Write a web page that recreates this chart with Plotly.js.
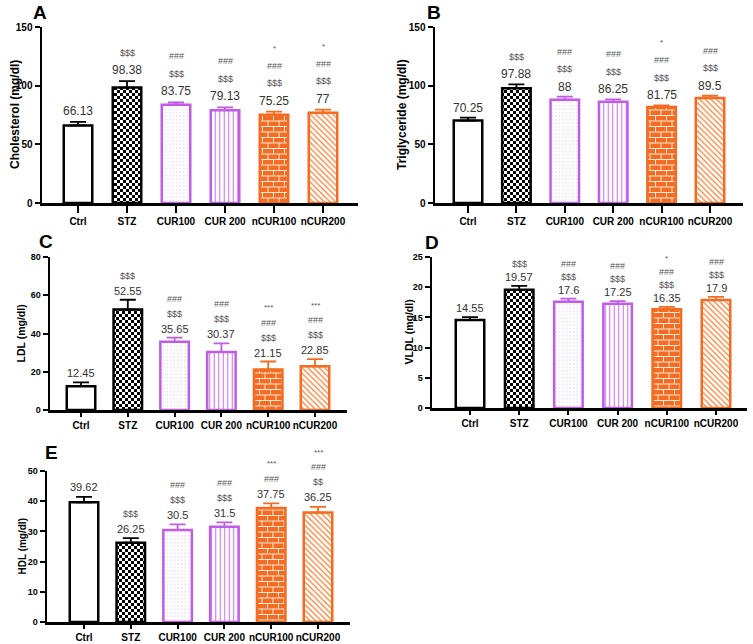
<!DOCTYPE html>
<html>
<head>
<meta charset="utf-8">
<script src="https://cdn.plot.ly/plotly-3.0.1.min.js"></script>
<style>
  html, body { margin: 0; padding: 0; background: #ffffff; }
  #chart { width: 753px; height: 644px; }
</style>
</head>
<body>
<div id="chart"></div>
<script>
// ---------------- DATA ----------------
const groups = ['Ctrl', 'STZ', 'CUR100', 'CUR 200', 'nCUR100', 'nCUR200'];
const panelLetters = ['A', 'B', 'C', 'D', 'E'];
const yTitles = ['Cholesterol (mg/dl)', 'Triglyceride (mg/dl)', 'LDL (mg/dl)', 'VLDL (mg/dl)', 'HDL (mg/dl)'];
const yMax = [150, 150, 80, 25, 50];
const yStep = [50, 50, 20, 5, 10];

const cholesterol = [66.13, 98.38, 83.75, 79.13, 75.25, 77];
const cholesterolErr = [3.0, 5.5, 2.0, 2.4, 2.6, 2.5];
const cholesterolSig = [[], ['$$$'], ['$$$', '###'], ['$$$', '###'], ['$$$', '###', '*'], ['$$$', '###', '*']];

const triglyceride = [70.25, 97.88, 88, 86.25, 81.75, 89.5];
const triglycerideErr = [2.5, 3.2, 2.6, 2.0, 1.5, 1.9];
const triglycerideSig = [[], ['$$$'], ['$$$', '###'], ['$$$', '###'], ['$$$', '###', '*'], ['$$$', '###']];

const ldl = [12.45, 52.55, 35.65, 30.37, 21.15, 22.85];
const ldlErr = [2.0, 5.1, 2.2, 4.5, 4.2, 3.7];
const ldlSig = [[], ['$$$'], ['$$$', '###'], ['$$$', '###'], ['$$$', '###', '***'], ['$$$', '###', '***']];

const vldl = [14.55, 19.57, 17.6, 17.25, 16.35, 17.9];
const vldlErr = [0.5, 0.65, 0.5, 0.45, 0.4, 0.5];
const vldlSig = [[], ['$$$'], ['$$$', '###'], ['$$$', '###'], ['$$$', '###', '*'], ['$$$', '###']];

const hdl = [39.62, 26.25, 30.5, 31.5, 37.75, 36.25];
const hdlErr = [1.8, 1.5, 1.8, 1.5, 1.5, 1.9];
const hdlSig = [[], ['$$$'], ['$$$', '###'], ['$$$', '###'], ['###', '***'], ['$$', '###', '***']];

const panelValues = [cholesterol, triglyceride, ldl, vldl, hdl];
const panelErrors = [cholesterolErr, triglycerideErr, ldlErr, vldlErr, hdlErr];
const panelSig = [cholesterolSig, triglycerideSig, ldlSig, vldlSig, hdlSig];

// ---------------- GEOMETRY / STYLE ----------------
const W = 753, H = 644;
const FONT = 'Liberation Sans, Arial, sans-serif';
const PURPLE = '#c05ce6';
const ORANGE = '#f36c21';

const geo = [
  {x0: 42,  x1: 358, yTop: 27,  yBot: 203, c0: 78,  step: 49,   titleX: 15,  titleSize: 12,   letterX: 40,  letterY: 12,  valSize: 12, valOff: 11,  gap: 17.5, tickSize: 10, xTickLen: 7},
  {x0: 435, x1: 743, yTop: 27,  yBot: 203, c0: 468, step: 48.4, titleX: 402, titleSize: 12,   letterX: 434, letterY: 12,  valSize: 12, valOff: 10,  gap: 17.5, tickSize: 10, xTickLen: 7},
  {x0: 50,  x1: 347, yTop: 257, yBot: 410, c0: 81,  step: 46.8, titleX: 20,  titleSize: 10.5, letterX: 46,  letterY: 241, valSize: 11, valOff: 9,   gap: 15,   tickSize: 9,  xTickLen: 4},
  {x0: 432, x1: 747, yTop: 257, yBot: 408, c0: 470, step: 49.2, titleX: 408, titleSize: 10.5, letterX: 432, letterY: 243, valSize: 11, valOff: 9,   gap: 13,   tickSize: 9,  xTickLen: 4},
  {x0: 47,  x1: 350, yTop: 471, yBot: 622, c0: 84,  step: 46.8, titleX: 22,  titleSize: 10,   letterX: 52,  letterY: 452, valSize: 11, valOff: 9.5, gap: 15,   tickSize: 9,  xTickLen: 4}
];

const styles = [
  {line: '#000000', shape: '',   fg: '#000000', bg: '#ffffff', size: 8,   sol: 0.3,  custom: null},
  {line: '#000000', shape: '+',  fg: '#000000', bg: '#ffffff', size: 6,   sol: 0.5,  custom: 'checker'},
  {line: PURPLE,    shape: '.',  fg: '#e2b8f4', bg: '#ffffff', size: 3.5, sol: 0.1,  custom: null},
  {line: PURPLE,    shape: '|',  fg: '#c874ec', bg: '#ffffff', size: 4.5, sol: 0.25, custom: null},
  {line: ORANGE,    shape: '+',  fg: '#ffffff', bg: ORANGE,    size: 6,   sol: 0.15, custom: 'brick'},
  {line: ORANGE,    shape: '\\', fg: '#f58a45', bg: '#ffffff', size: 4,   sol: 0.35, custom: null}
];

const data = [];
const annotations = [];
const layout = {
  width: W, height: H,
  margin: {l: 0, r: 0, t: 0, b: 0},
  paper_bgcolor: '#ffffff', plot_bgcolor: '#ffffff',
  showlegend: false,
  barmode: 'overlay',
  font: {family: FONT, color: '#000'},
  annotations: annotations
};

panelValues.forEach((vals, p) => {
  const g = geo[p];
  const sfx = p === 0 ? '' : String(p + 1);
  const xa = 'x' + sfx, ya = 'y' + sfx;
  const barW = (31 - 2.5) / g.step;

  layout['xaxis' + sfx] = {
    domain: [g.x0 / W, g.x1 / W],
    anchor: ya,
    type: 'category',
    categoryorder: 'array', categoryarray: groups,
    range: [(g.x0 - g.c0) / g.step, (g.x1 - g.c0) / g.step],
    showline: true, linecolor: '#000', linewidth: 2.5,
    ticks: 'outside', ticklen: g.xTickLen, tickwidth: 2, tickcolor: '#000',
    tickangle: 0,
    tickfont: {family: FONT, size: 10, color: '#000', weight: 'bold'},
    showgrid: false, zeroline: false, fixedrange: true
  };
  layout['yaxis' + sfx] = {
    domain: [1 - g.yBot / H, 1 - g.yTop / H],
    anchor: xa,
    range: [0, yMax[p]], dtick: yStep[p], tick0: 0,
    showline: true, linecolor: '#000', linewidth: 2.5,
    ticks: 'outside', ticklen: 5, tickwidth: 2, tickcolor: '#000',
    tickfont: {family: FONT, size: g.tickSize, color: '#000', weight: 'bold'},
    showgrid: false, zeroline: false, fixedrange: true
  };

  vals.forEach((v, i) => {
    const s = styles[i];
    const err = panelErrors[p][i];
    data.push({
      type: 'bar',
      x: [groups[i]], y: [v],
      xaxis: xa, yaxis: ya,
      width: barW,
      meta: s.custom || 'plain',
      hoverinfo: 'skip',
      marker: {
        color: s.bg,
        line: {color: s.line, width: 2.5},
        pattern: {shape: s.shape, fgcolor: s.fg, bgcolor: s.bg, size: s.size, solidity: s.sol, fillmode: 'replace'}
      },
      error_y: {
        type: 'data', symmetric: false, array: [err], arrayminus: [0],
        color: s.line, thickness: 1.8, width: 8
      }
    });

    // value label
    annotations.push({
      xref: xa, yref: ya, x: groups[i], y: v + err,
      yanchor: 'middle', xanchor: 'center', yshift: g.valOff,
      text: String(v), showarrow: false,
      font: {family: FONT, size: g.valSize, color: '#333333'}
    });
    // significance markers
    panelSig[p][i].forEach((sym, k) => {
      annotations.push({
        xref: xa, yref: ya, x: groups[i], y: v + err,
        yanchor: 'middle', xanchor: 'center', yshift: g.valOff + g.gap * (k + 1),
        text: sym, showarrow: false,
        font: {family: FONT, size: sym.indexOf('*') >= 0 ? 8 : 9, color: '#555555'}
      });
    });
  });

  // y-axis title
  annotations.push({
    xref: 'paper', yref: 'paper',
    x: g.titleX / W, y: 1 - ((g.yTop + g.yBot) / 2) / H,
    xanchor: 'center', yanchor: 'middle', textangle: -90,
    text: yTitles[p], showarrow: false,
    font: {family: FONT, size: g.titleSize, color: '#000', weight: 'bold'}
  });
  // panel letter
  annotations.push({
    xref: 'paper', yref: 'paper',
    x: g.letterX / W, y: 1 - g.letterY / H,
    xanchor: 'center', yanchor: 'middle', borderpad: 0,
    text: panelLetters[p], showarrow: false,
    font: {family: FONT, size: 19, color: '#000', weight: 'bold'}
  });
});

const gd = document.getElementById('chart');

function customizePatterns() {
  const NS = 'http://www.w3.org/2000/svg';
  gd.querySelectorAll('g.trace.bars').forEach(tg => {
    const cd = tg.__data__;
    const tr = cd && cd[0] && cd[0].trace;
    if (!tr || (tr.meta !== 'checker' && tr.meta !== 'brick')) return;
    tg.querySelectorAll('path').forEach(pth => {
      const f = pth.style.fill || pth.getAttribute('fill') || '';
      const m = f.match(/#([^"')\s]+)/);
      if (!m || f.indexOf('url') < 0) return;
      const pat = document.getElementById(m[1]);
      if (!pat) return;
      while (pat.firstChild) pat.removeChild(pat.firstChild);
      pat.removeAttribute('patternTransform');
      pat.setAttribute('patternUnits', 'userSpaceOnUse');
      const mk = (tag, attrs) => {
        const el = document.createElementNS(NS, tag);
        Object.keys(attrs).forEach(a => el.setAttribute(a, attrs[a]));
        pat.appendChild(el);
      };
      if (tr.meta === 'checker') {
        pat.setAttribute('width', 6); pat.setAttribute('height', 6);
        mk('rect', {x: 0, y: 0, width: 6, height: 6, fill: '#ffffff'});
        mk('rect', {x: 0, y: 0, width: 3, height: 3, fill: '#000000'});
        mk('rect', {x: 3, y: 3, width: 3, height: 3, fill: '#000000'});
      } else {
        pat.setAttribute('width', 11); pat.setAttribute('height', 11);
        mk('rect', {x: 0, y: 0, width: 11, height: 11, fill: ORANGE});
        mk('path', {d: 'M0,0.5H11M0,6H11M0.5,0V5.5M6,5.5V11', stroke: '#ffe6d6', 'stroke-width': 1, fill: 'none'});
      }
    });
  });
}

Plotly.newPlot(gd, data, layout, {staticPlot: true, displayModeBar: false}).then(customizePatterns);
</script>
</body>
</html>
